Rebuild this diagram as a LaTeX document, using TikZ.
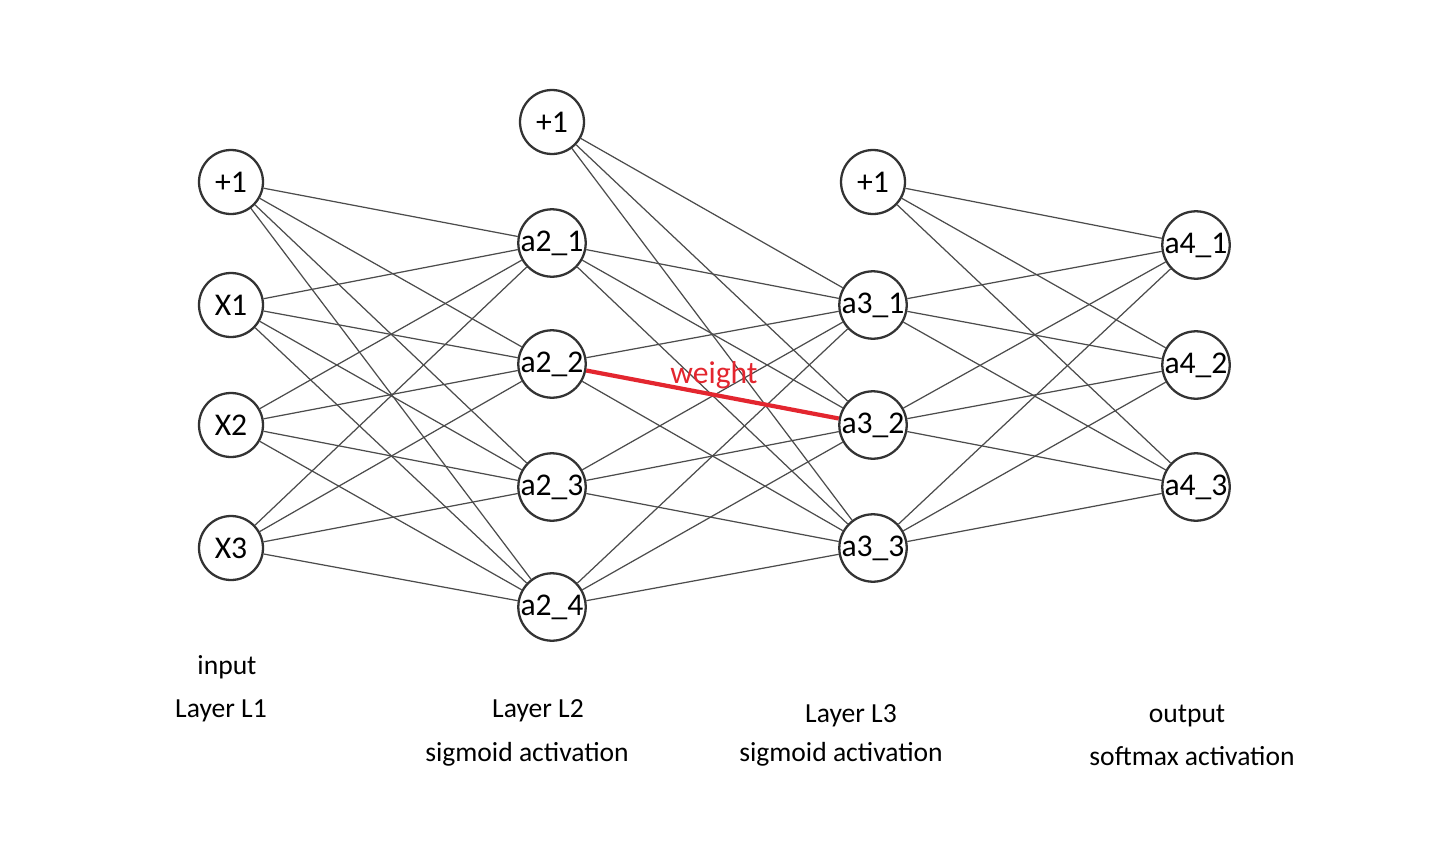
\documentclass[tikz,border=0pt]{standalone}
\usepackage{fontspec}
\setmainfont{Carlito}
\definecolor{wred}{HTML}{E3262F}
\begin{document}
\begin{tikzpicture}[x=0.02cm, y=-0.02cm,
    neuron/.style={circle,draw=black!80,line width=1.3pt,minimum size=1.28cm,inner sep=0pt,font=\fontsize{18}{20}\selectfont},
    link/.style={draw=black!70,line width=0.7pt},
    caption/.style={font=\fontsize{15.7}{18}\selectfont}]
\useasboundingbox (0,0) rectangle (1452,848);
% Camada de entrada
\node[neuron] (I0) at (231,182) {+1};
\foreach \i/\y in {1/305,2/425,3/548}
    \node[neuron] (I\i) at (231,\y) {X\i};
% Camada oculta L2
\node[neuron] (H0) at (552,122) {+1};
\foreach \i/\y in {1/243,2/364,3/487,4/607}
    \node[neuron] (H\i) at (552,\y) {a2\_\i};
% Camada oculta L3
\node[neuron] (K0) at (873,182) {+1};
\foreach \i/\y in {1/305,2/425,3/548}
    \node[neuron] (K\i) at (873,\y) {a3\_\i};
% Camada de saída
\foreach \i/\y in {1/245,2/365,3/487}
    \node[neuron] (O\i) at (1196,\y) {a4\_\i};
% Conexões
\foreach \i in {0,...,3}
    \foreach \j in {1,...,4}
        \draw[link] (I\i) -- (H\j);
\foreach \i in {0,...,4}
    \foreach \j in {1,...,3}
        \draw[link] (H\i) -- (K\j);
\foreach \i in {0,...,3}
    \foreach \j in {1,...,3}
        \draw[link] (K\i) -- (O\j);
% Peso
\draw[wred,line width=2.4pt] (H2) -- (K2);
\node[text=wred,font=\fontsize{18}{20}\selectfont] (W) at (714,375) {weight};
% Legendas
\node[caption] (L1a) at (227,667) {input};
\node[caption] (L1b) at (221,711) {Layer L1};
\node[caption] (L2a) at (538,711) {Layer L2};
\node[caption] (L2b) at (527,754) {sigmoid activation};
\node[caption] (L3a) at (851,716) {Layer L3};
\node[caption] (L3b) at (841,754) {sigmoid activation};
\node[caption] (L4a) at (1187,716) {output};
\node[caption] (L4b) at (1192,756) {softmax activation};
\end{tikzpicture}
\end{document}
